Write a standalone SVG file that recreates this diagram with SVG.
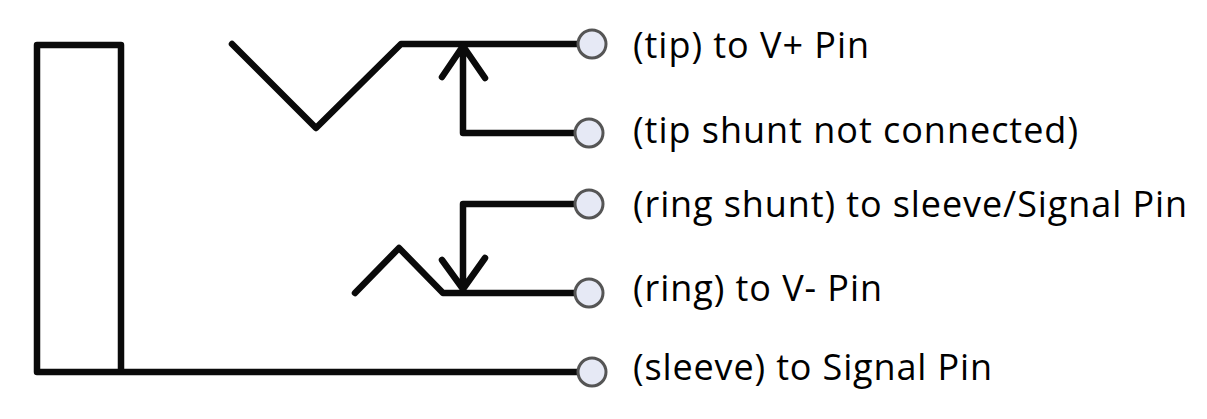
<svg xmlns="http://www.w3.org/2000/svg" width="1207" height="419" viewBox="0 0 1207 419">
<style>
.w{fill:none;stroke:#0a0a0a;stroke-width:6.5;stroke-linecap:round;stroke-linejoin:round}
.p{fill:#e6e9f5;stroke:#555;stroke-width:3}
text{font-family:"Open Sans","Noto Sans",sans-serif;font-size:36px;fill:#000}
</style>
<rect width="1207" height="419" fill="#fff"/>
<g id="connectors">
<path class="w" d="M579 372H37V45H121V372"/>
<path class="w" d="M232 44L316 128L401 44H579"/>
<path class="w" d="M577 133H463V46M442 77L463 46L485 78"/>
<path class="w" d="M577 204H463V289M442 260L463 289L485 258"/>
<path class="w" d="M355 293L399 248L443 293H577"/>
</g>
<g id="pin-tip"><circle class="p" cx="592" cy="44" r="14"/><text x="633" y="58" textLength="236">(tip) to V+ Pin</text></g>
<g id="pin-tip-shunt"><circle class="p" cx="589" cy="133" r="14"/><text x="633" y="143" textLength="445">(tip shunt not connected)</text></g>
<g id="pin-ring-shunt"><circle class="p" cx="589" cy="204" r="14"/><text x="633" y="217" textLength="554">(ring shunt) to sleeve/Signal Pin</text></g>
<g id="pin-ring"><circle class="p" cx="589" cy="293" r="14"/><text x="633" y="301" textLength="249">(ring) to V- Pin</text></g>
<g id="pin-sleeve"><circle class="p" cx="592" cy="372" r="14"/><text x="633" y="380" textLength="359">(sleeve) to Signal Pin</text></g>
</svg>
